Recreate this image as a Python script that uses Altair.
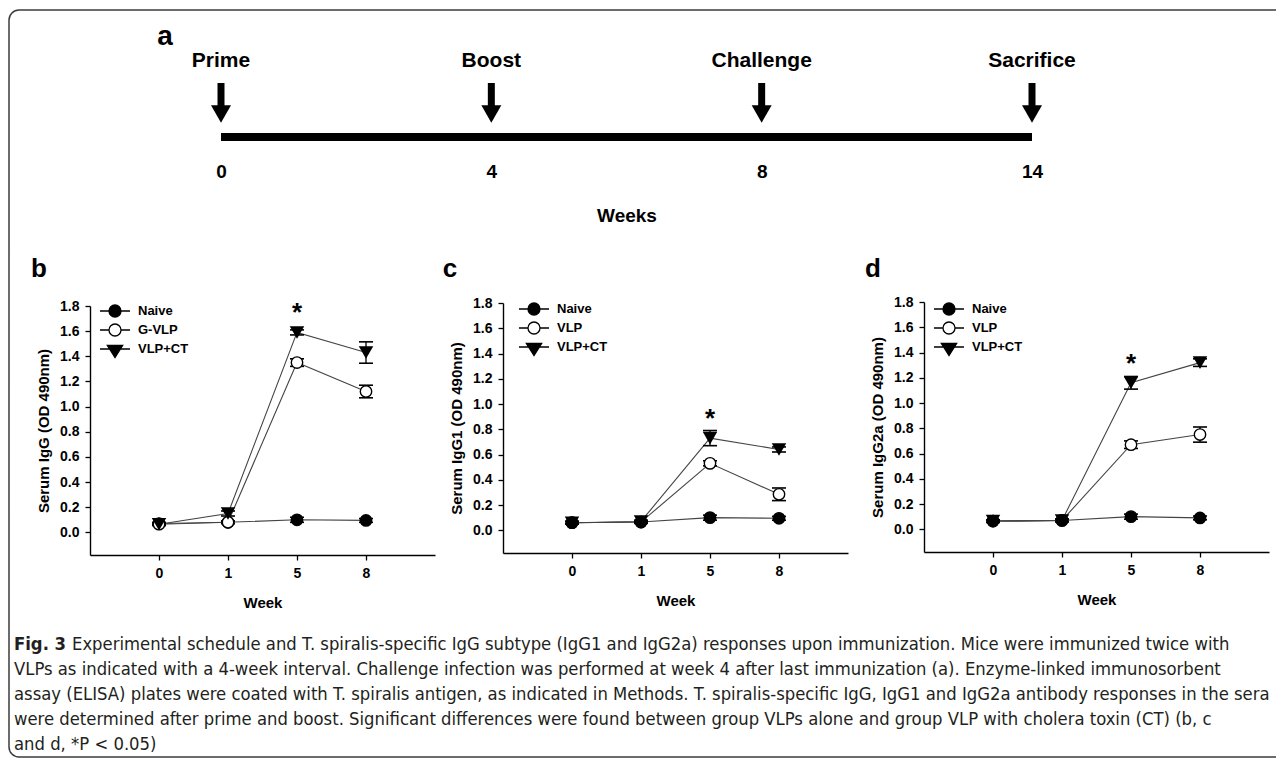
import altair as alt
import pandas as pd

FONT = "Liberation Sans, Arial, Helvetica, sans-serif"
CAP_FONT = "Liberation Sans Narrow, DejaVu Sans Condensed, Liberation Sans, sans-serif"
W, H = 1268, 750

# ---------------- data ----------------
event_names = ["Prime", "Boost", "Challenge", "Sacrifice"]
event_weeks = ["0", "4", "8", "14"]

weeks = ["0", "1", "5", "8"]

b_groups = ["Naive", "G-VLP", "VLP+CT"]
b_naive = [0.07, 0.08, 0.10, 0.095]
b_naive_err = [0.01, 0.01, 0.02, 0.015]
b_vlp = [0.065, 0.08, 1.35, 1.12]
b_vlp_err = [0.01, 0.01, 0.03, 0.05]
b_ct = [0.065, 0.15, 1.59, 1.43]
b_ct_err = [0.01, 0.02, 0.02, 0.085]
b_star = 1.78

c_groups = ["Naive", "VLP", "VLP+CT"]
c_naive = [0.06, 0.065, 0.10, 0.095]
c_naive_err = [0.01, 0.01, 0.02, 0.015]
c_vlp = [0.06, 0.065, 0.53, 0.285]
c_vlp_err = [0.01, 0.01, 0.02, 0.05]
c_ct = [0.06, 0.07, 0.73, 0.64]
c_ct_err = [0.01, 0.01, 0.06, 0.02]
c_star = 0.91

d_groups = ["Naive", "VLP", "VLP+CT"]
d_naive = [0.065, 0.07, 0.10, 0.09]
d_naive_err = [0.01, 0.01, 0.02, 0.015]
d_vlp = [0.065, 0.07, 0.67, 0.75]
d_vlp_err = [0.01, 0.01, 0.03, 0.06]
d_ct = [0.065, 0.07, 1.16, 1.32]
d_ct_err = [0.01, 0.01, 0.05, 0.03]
d_star = 1.34

y_ticks = [0.0, 0.2, 0.4, 0.6, 0.8, 1.0, 1.2, 1.4, 1.6, 1.8]

caption_fig = "Fig. 3"
caption_lines = [
    "Experimental schedule and T. spiralis-specific IgG subtype (IgG1 and IgG2a) responses upon immunization. Mice were immunized twice with",
    "VLPs as indicated with a 4-week interval. Challenge infection was performed at week 4 after last immunization (a). Enzyme-linked immunosorbent",
    "assay (ELISA) plates were coated with T. spiralis antigen, as indicated in Methods. T. spiralis-specific IgG, IgG1 and IgG2a antibody responses in the sera",
    "were determined after prime and boost. Significant differences were found between group VLPs alone and group VLP with cholera toxin (CT) (b, c",
    "and d, *P < 0.05)",
]

# legend symbol paths (line through marker)
CIRC = ("M0.667,0C0.667,0.368,0.368,0.667,0,0.667C-0.368,0.667,-0.667,0.368,-0.667,0"
        "C-0.667,-0.368,-0.368,-0.667,0,-0.667C0.368,-0.667,0.667,-0.368,0.667,0Z")
LEG_FILLED = "M-1.67,0L1.67,0" + CIRC
LEG_OPEN = "M-1.67,0L-0.667,0M0.667,0L1.67,0" + CIRC
LEG_TRI = "M-1.67,0L1.67,0M-0.85,-0.4L0.85,-0.4L0,0.95Z"


def text_at(txt, x, y, size, align="center", baseline="alphabetic", font=FONT, weight="bold", color="black"):
    return alt.Chart(pd.DataFrame({"t": [txt]})).mark_text(
        align=align, baseline=baseline, font=font, fontSize=size, fontWeight=weight, color=color
    ).encode(x=alt.value(x), y=alt.value(y), text="t:N")


# ---------------- panel a (timeline) ----------------
ev = pd.DataFrame({"event": event_names, "week": event_weeks})
t_scale = alt.Scale(type="point", domain=event_weeks, range=[213, 1024], padding=0)
t_axis = alt.Axis(orient="bottom", offset=169 - H, domain=False, ticks=False, labelAngle=0,
                  labelBaseline="alphabetic", labelPadding=0, labelFontSize=19, labelFontWeight="bold",
                  title="Weeks", titleFontSize=19, titleFontWeight="bold", titlePadding=25)
TX = alt.X("week:O", scale=t_scale, axis=t_axis)

bar = alt.Chart(pd.DataFrame({"week": [event_weeks[0]], "end": [event_weeks[-1]]})).mark_rule(
    strokeWidth=8, color="black", strokeCap="butt").encode(x=TX, x2="end:O", y=alt.value(129))
shafts = alt.Chart(ev).mark_rule(strokeWidth=7, color="black", strokeCap="butt").encode(
    x=TX, y=alt.value(75), y2=alt.value(100))
heads = alt.Chart(ev).mark_point(shape="triangle-down", filled=True, size=400, color="black", opacity=1).encode(
    x=TX, y=alt.value(106))
names = alt.Chart(ev).mark_text(fontSize=21, fontWeight="bold", baseline="alphabetic", font=FONT, color="black").encode(
    x=TX, y=alt.value(59), text="event:N")
panel_a = alt.layer(bar, shafts, heads, names)


# ---------------- panels b, c, d ----------------
def panel(groups, series, errs, star, ytitle, x_left, y_bottom, y_top, lx, ly, first_order):
    rows = []
    for g, vals, es in zip(groups, series, errs):
        for w, v, e in zip(weeks, vals, es):
            rows.append({"group": g, "week": w, "value": v, "lo": v - e, "hi": v + e})
    df = pd.DataFrame(rows)
    circ_df = pd.concat([df[df["group"] == groups[i]] for i in first_order])
    tri_df = df[df["group"] == groups[2]]

    xsc = alt.Scale(type="point", domain=weeks, range=[x_left, x_left + 345], padding=1)
    ysc = alt.Scale(domain=[-0.18, 1.8], range=[y_bottom, y_top], nice=False, zero=False)
    xax = alt.Axis(orient="bottom", offset=y_bottom - H, labelAngle=0, tickSize=5, labelPadding=6,
                   labelFontSize=14, labelFontWeight="bold", title="Week", titleFontSize=15,
                   titleFontWeight="bold", titlePadding=15)
    yax = alt.Axis(orient="left", offset=-x_left, values=y_ticks, format=".1f", tickSize=5, labelPadding=6,
                   labelFontSize=14, labelFontWeight="bold", title=ytitle, titleFontSize=15,
                   titleFontWeight="bold", titlePadding=8)
    X = alt.X("week:O", scale=xsc, axis=xax)

    def Y(field):
        return alt.Y(field, type="quantitative", scale=ysc, axis=yax)

    lines = alt.Chart(df).mark_line(color="#444444", strokeWidth=1.1).encode(
        x=X, y=Y("value"), detail="group:N")
    err = alt.Chart(df).mark_rule(color="black", strokeWidth=1.3).encode(x=X, y=Y("lo"), y2="hi:Q")
    cap_lo = alt.Chart(df).mark_tick(color="black", size=14, thickness=1.6, orient="horizontal", opacity=1).encode(
        x=X, y=Y("lo"))
    cap_hi = alt.Chart(df).mark_tick(color="black", size=14, thickness=1.6, orient="horizontal", opacity=1).encode(
        x=X, y=Y("hi"))
    circles = alt.Chart(circ_df).mark_point(shape="circle", filled=True, stroke="black", strokeWidth=1.4,
                                            size=130, opacity=1).encode(
        x=X, y=Y("value"),
        fill=alt.condition(alt.datum.group == groups[1], alt.value("white"), alt.value("black")))
    tris = alt.Chart(tri_df).mark_point(shape="triangle-down", filled=True, color="black", size=210,
                                        opacity=1).encode(x=X, y=Y("value"))
    st = alt.Chart(pd.DataFrame({"week": [weeks[2]], "value": [star]})).mark_text(
        text="*", fontSize=26, fontWeight="bold", baseline="middle", font=FONT, color="black", dy=4).encode(
        x=X, y=Y("value"))
    leg = alt.Legend(orient="none", legendX=lx, legendY=ly, title=None, labelFont=FONT, labelFontSize=13,
                     labelFontWeight="bold", labelColor="black", labelOffset=13, symbolSize=324,
                     symbolStrokeWidth=1.3, symbolStrokeColor="black", rowPadding=0, padding=0)
    legend_layer = alt.Chart(df).transform_filter("false").mark_point(
        filled=True, strokeWidth=1.3, size=324, opacity=1).encode(
        x=X, y=Y("value"),
        shape=alt.Shape("group:N", scale=alt.Scale(domain=groups, range=[LEG_FILLED, LEG_OPEN, LEG_TRI]),
                        legend=leg),
        fill=alt.Fill("group:N", scale=alt.Scale(domain=groups, range=["black", "white", "black"]),
                      legend=leg),
        stroke=alt.Stroke("group:N", scale=alt.Scale(domain=groups, range=["black", "black", "black"]),
                          legend=leg))
    return alt.layer(lines, err, cap_lo, cap_hi, circles, tris, st, legend_layer)


panel_b = panel(b_groups, [b_naive, b_vlp, b_ct], [b_naive_err, b_vlp_err, b_ct_err], b_star,
                "Serum IgG (OD 490nm)", 82, 547, 298, 97, 293, [0, 1])
panel_c = panel(c_groups, [c_naive, c_vlp, c_ct], [c_naive_err, c_vlp_err, c_ct_err], c_star,
                "Serum IgG1 (OD 490nm)", 495, 545, 295, 516, 291, [1, 0])
panel_d = panel(d_groups, [d_naive, d_vlp, d_ct], [d_naive_err, d_vlp_err, d_ct_err], d_star,
                "Serum IgG2a (OD 490nm)", 916, 544, 294, 931, 291, [1, 0])

# ---------------- labels, caption, frame ----------------
frame = alt.Chart(pd.DataFrame({"k": [0]})).mark_rect(
    cornerRadius=10, fillOpacity=0, stroke="#3c3c3c", strokeWidth=1.5).encode(
    x=alt.value(1), x2=alt.value(1300), y=alt.value(2), y2=alt.value(749))

lab_a = text_at("a", 157, 37, 28)
lab_b = text_at("b", 31, 269, 26)
lab_c = text_at("c", 442, 269, 26)
lab_d = text_at("d", 865, 269, 26)

CAP_SIZE = 18.3
cap_df = pd.DataFrame({"i": list(range(len(caption_lines))), "text": caption_lines})
cap_y = alt.Y("i:Q", scale=alt.Scale(domain=[0, 4], range=[637, 737], nice=False, zero=False), axis=None)
cap_first = alt.Chart(cap_df[cap_df["i"] == 0]).mark_text(
    align="left", baseline="middle", font=CAP_FONT, fontSize=CAP_SIZE, color="#231f20").encode(
    x=alt.value(64), y=cap_y, text="text:N")
cap_rest = alt.Chart(cap_df[cap_df["i"] > 0]).mark_text(
    align="left", baseline="middle", font=CAP_FONT, fontSize=CAP_SIZE, color="#231f20").encode(
    x=alt.value(6), y=cap_y, text="text:N")
cap_fig = alt.Chart(pd.DataFrame({"i": [0], "text": [caption_fig]})).mark_text(
    align="left", baseline="middle", font=CAP_FONT, fontSize=CAP_SIZE, fontWeight="bold", color="#231f20").encode(
    x=alt.value(6), y=cap_y, text="text:N")
caption = alt.layer(cap_fig, cap_first, cap_rest)

chart = alt.layer(
    frame, panel_a, panel_b, panel_c, panel_d, lab_a, lab_b, lab_c, lab_d, caption
).resolve_scale(
    x="independent", y="independent", shape="independent", fill="independent", stroke="independent"
).properties(
    width=W, height=H, autosize=alt.AutoSizeParams(type="none"), padding=0
).configure_view(
    strokeWidth=0
).configure_axis(
    grid=False, labelFont=FONT, titleFont=FONT, labelColor="black", titleColor="black",
    domainColor="black", tickColor="black", domainWidth=1.4, tickWidth=1.3
).configure_text(font=FONT)

chart.save("out.html", embed_options={"renderer": "svg", "actions": False})
